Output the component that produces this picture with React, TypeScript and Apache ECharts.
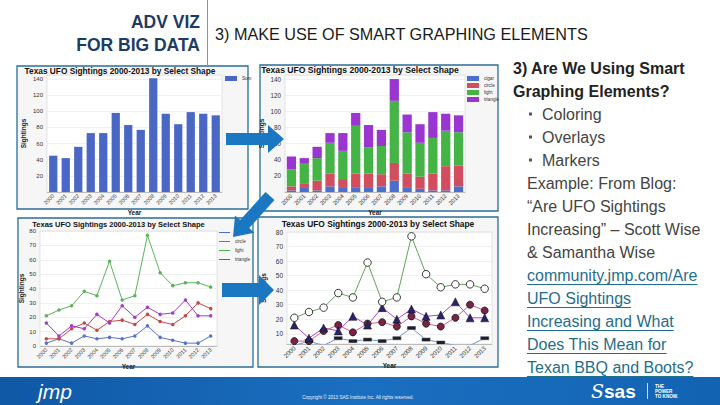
import React, { useEffect, useRef } from "react";
import * as echarts from "echarts";

const F = "'Liberation Sans', Arial, Helvetica, sans-serif";

const years = ["2000", "2001", "2002", "2003", "2004", "2005", "2006", "2007", "2008", "2009", "2010", "2011", "2012", "2013"];
const shapes = ["cigar", "circle", "light", "triangle"];
const totals = [45, 42, 56, 73, 73, 98, 83, 77, 141, 97, 84, 99, 97, 95];
const cigar = [2, 5, 2, 7, 5, 6, 5, 7, 14, 6, 4, 2, 2, 7];
const circle = [5, 5, 12, 16, 11, 17, 18, 15, 22, 17, 15, 21, 30, 26];
const light = [21, 25, 28, 38, 35, 59, 32, 35, 77, 51, 42, 44, 44, 41];
const triangle = [16, 7, 14, 12, 22, 16, 28, 20, 27, 22, 23, 32, 21, 21];
const shapeValues = [cigar, circle, light, triangle];

const yTicks12 = [20, 40, 60, 80, 100, 120, 140];
const yTicks4 = [10, 20, 30, 40, 50, 60, 70, 80];

const chartTitle = "Texas UFO Sightings 2000-2013 by Select Shape";
const slideHeader = ["ADV VIZ", "FOR BIG DATA"];
const slideTitle = "3) MAKE USE OF SMART GRAPHING ELEMENTS";
const sideHeading = ["3) Are We Using Smart", "Graphing Elements?"];
const bullets = ["Coloring", "Overlays", "Markers"];
const bodyLines = ["Example: From Blog:", "\u201cAre UFO Sightings", "Increasing\u201d \u2013 Scott Wise", "& Samantha Wise"];
const linkLines = ["community.jmp.com/Are", "UFO Sightings", "Increasing and What", "Does This Mean for", "Texan BBQ and Boots?"];
const footerCopy = "Copyright \u00a9 2013 SAS Institute Inc. All rights reserved.";
const tagline = ["THE", "POWER", "TO KNOW."];

const barColors = ["#4b6fd0", "#d24d5e", "#45b447", "#9a35d2"];
const line3Colors = ["#5675c8", "#c44848", "#5cb35c", "#a43cc6"];
const line4Colors = ["#6f8fd6", "#d2648a", "#5ea55e", "#a848cc"];

function App() {
  const ref = useRef<HTMLDivElement>(null);
  useEffect(() => {
    if (!ref.current) return;
    const chart = echarts.init(ref.current, undefined, { renderer: "svg" });

    const canvas = document.createElement("canvas");
    const ctx = canvas.getContext("2d")!;
    ctx.font = "16px 'Liberation Sans', Arial, sans-serif";

    const xAxis = (gridIndex: number, nameGap: number, fs: number) => ({
      type: "category",
      gridIndex,
      data: years,
      boundaryGap: true,
      axisLine: { show: true, lineStyle: { color: "#9a9a9a", width: 0.6 } },
      axisTick: { show: false },
      axisLabel: { rotate: 45, fontSize: fs, color: "#333", margin: 3, fontFamily: F, interval: 0 },
      name: "Year",
      nameLocation: "middle",
      nameGap,
      nameTextStyle: { fontSize: 6.5, color: "#222", fontFamily: F, fontWeight: "bold" },
    });
    const ySplit = { show: true, lineStyle: { color: "#e6e6e6", width: 0.6 } };
    const yLabel = (fs: number) => ({ fontSize: fs, color: "#333", fontFamily: F, margin: 4 });
    const yName = (gap: number) => ({
      name: "Sightings",
      nameLocation: "middle",
      nameGap: gap,
      nameRotate: 90,
      nameTextStyle: { fontSize: 6.5, color: "#222", fontFamily: F, fontWeight: "bold" },
    });

    const gridBase = { show: true, backgroundColor: "#ffffff", borderColor: "#d4d4d4", borderWidth: 0.6 };

    const series: any[] = [];
    shapes.forEach((s, i) => {
      series.push({
        type: "bar",
        name: s,
        xAxisIndex: 1,
        yAxisIndex: 1,
        stack: "shape",
        data: shapeValues[i],
        barWidth: "72%",
        itemStyle: { color: barColors[i] },
      });
    });
    series.push({
      type: "bar",
      name: "Sum",
      xAxisIndex: 0,
      yAxisIndex: 0,
      data: totals,
      barWidth: "66%",
      itemStyle: { color: "#4a67c6" },
    });
    shapes.forEach((s, i) => {
      series.push({
        type: "line",
        name: s,
        xAxisIndex: 2,
        yAxisIndex: 2,
        data: shapeValues[i],
        symbol: "circle",
        symbolSize: 3.5,
        lineStyle: { color: line3Colors[i], width: 1 },
        itemStyle: { color: line3Colors[i] },
      });
    });
    const markers = [
      { symbol: "rect", symbolSize: [9, 4], itemStyle: { color: "#1e1e2a", borderColor: "#ffffff", borderWidth: 0.5 } },
      { symbol: "circle", symbolSize: 7, itemStyle: { color: "#7a2444", borderColor: "#111", borderWidth: 0.8 } },
      { symbol: "circle", symbolSize: 7.5, itemStyle: { color: "#ffffff", borderColor: "#222", borderWidth: 0.9 } },
      { symbol: "triangle", symbolSize: 8, itemStyle: { color: "#2a2466", borderColor: "#111", borderWidth: 0.5 } },
    ];
    shapes.forEach((s, i) => {
      series.push({
        type: "line",
        name: s + " marker",
        xAxisIndex: 3,
        yAxisIndex: 3,
        data: shapeValues[i],
        clip: true,
        symbol: markers[i].symbol,
        symbolSize: markers[i].symbolSize,
        showAllSymbol: true,
        lineStyle: { color: line4Colors[i], width: 1 },
        itemStyle: markers[i].itemStyle,
        z: i === 2 ? 4 : 3,
      });
    });

    const legendText = { fontSize: 4.6, color: "#333", fontFamily: F };

    const elements: any[] = [];
    const boxes = [
      [17, 66, 231, 143],
      [260, 65, 238, 146],
      [18, 218, 235, 149],
      [258, 217, 240, 150],
    ];
    boxes.forEach((b) => {
      elements.push({
        type: "rect",
        z: -10,
        shape: { x: b[0], y: b[1], width: b[2], height: b[3] },
        style: { fill: "#f6f6f6", stroke: "#2c6d98", lineWidth: 1.3 },
      });
    });
    const titlePos = [
      [120, 71, 8.3],
      [360, 70, 8.6],
      [118.5, 224, 7.5],
      [378, 223.5, 8.4],
    ];
    titlePos.forEach((p) => {
      elements.push({
        type: "text",
        z: 5,
        style: {
          text: chartTitle,
          x: p[0],
          y: p[1],
          textAlign: "center",
          textVerticalAlign: "middle",
          fontSize: p[2],
          fontWeight: "bold",
          fontFamily: F,
          fill: "#111",
        },
      });
    });
    elements.push({ type: "line", shape: { x1: 207.5, y1: 0, x2: 207.5, y2: 66 }, style: { stroke: "#8796a8", lineWidth: 1 } });
    slideHeader.forEach((t, i) => {
      elements.push({
        type: "text",
        style: {
          text: t,
          x: 200,
          y: 22 + i * 23,
          textAlign: "right",
          textVerticalAlign: "middle",
          fontSize: 17.5,
          fontWeight: "bold",
          fontFamily: F,
          fill: "#1c3c62",
        },
      });
    });
    elements.push({
      type: "text",
      style: {
        text: slideTitle,
        x: 215,
        y: 34,
        textVerticalAlign: "middle",
        fontSize: 16.2,
        fontFamily: F,
        fill: "#1a1a1a",
      },
    });
    sideHeading.forEach((t, i) => {
      elements.push({
        type: "text",
        style: { text: t, x: 513, y: 68 + i * 23, textVerticalAlign: "middle", fontSize: 16, fontWeight: "bold", fontFamily: F, fill: "#222" },
      });
    });
    bullets.forEach((t, i) => {
      const y = 114 + i * 23;
      elements.push({ type: "rect", shape: { x: 529, y: y - 1.5, width: 3, height: 3 }, style: { fill: "#555" } });
      elements.push({
        type: "text",
        style: { text: t, x: 542, y, textVerticalAlign: "middle", fontSize: 16, fontFamily: F, fill: "#444" },
      });
    });
    bodyLines.forEach((t, i) => {
      elements.push({
        type: "text",
        style: { text: t, x: 527, y: 183 + i * 23, textVerticalAlign: "middle", fontSize: 16, fontFamily: F, fill: "#444" },
      });
    });
    linkLines.forEach((t, i) => {
      const y = 275 + i * 23;
      const w = ctx.measureText(t).width;
      elements.push({
        type: "text",
        style: { text: t, x: 527, y, textVerticalAlign: "middle", fontSize: 16, fontFamily: F, fill: "#1f6e8c" },
      });
      elements.push({ type: "line", shape: { x1: 527, y1: y + 9.5, x2: 527 + w, y2: y + 9.5 }, style: { stroke: "#1f6e8c", lineWidth: 1 } });
    });
    const arrowStyle = { fill: "#1a78c2" };
    elements.push({
      type: "polygon",
      z: 100,
      shape: { points: [[226, 133], [268, 133], [268, 125], [284, 139], [268, 153], [268, 145], [226, 145]] },
      style: arrowStyle,
    });
    elements.push({
      type: "polygon",
      z: 100,
      shape: { points: [[222, 283], [259, 283], [259, 275], [274, 290], [259, 305], [259, 297], [222, 297]] },
      style: arrowStyle,
    });
    elements.push({
      type: "polygon",
      z: 100,
      shape: {
        points: [[265.5, 192], [240.2, 220.1], [235.0, 215.4], [233, 237], [254.4, 232.8], [249.2, 228.1], [274.5, 200]],
      },
      style: arrowStyle,
    });
    elements.push({
      type: "rect",
      z: 50,
      shape: { x: 0, y: 377, width: 720, height: 28 },
      style: {
        fill: new echarts.graphic.LinearGradient(0, 0, 1, 0, [
          { offset: 0, color: "#0f58a6" },
          { offset: 0.5, color: "#1b6fc0" },
          { offset: 1, color: "#1363b3" },
        ]),
      },
    });
    elements.push({
      type: "text",
      z: 51,
      style: { text: "jmp", x: 38, y: 391, textVerticalAlign: "middle", fontSize: 21, fontStyle: "italic", fontFamily: F, fill: "#ffffff" },
    });
    elements.push({
      type: "text",
      z: 51,
      style: { text: footerCopy, x: 358, y: 397, textAlign: "center", textVerticalAlign: "middle", fontSize: 4.6, fontFamily: F, fill: "#e8f0fa" },
    });
    elements.push({
      type: "text",
      z: 51,
      style: { text: "S", x: 591, y: 391, textVerticalAlign: "middle", fontSize: 19, fontStyle: "italic", fontFamily: "'DejaVu Serif', serif", fill: "#ffffff" },
    });
    elements.push({
      type: "text",
      z: 51,
      style: { text: "sas", x: 604, y: 391, textVerticalAlign: "middle", fontSize: 19, fontWeight: "bold", fontFamily: F, fill: "#ffffff" },
    });
    elements.push({ type: "line", z: 51, shape: { x1: 647.5, y1: 383, x2: 647.5, y2: 399 }, style: { stroke: "#ffffff", lineWidth: 0.8 } });
    tagline.forEach((t, i) => {
      elements.push({
        type: "text",
        z: 51,
        style: { text: t, x: 655, y: 386 + i * 5, textVerticalAlign: "middle", fontSize: 4.6, fontWeight: "bold", fontFamily: F, fill: "#ffffff" },
      });
    });

    const option: any = {
      animation: false,
      backgroundColor: "#ffffff",
      textStyle: { fontFamily: F },
      grid: [
        { ...gridBase, left: 47, top: 75, width: 175, height: 117 },
        { ...gridBase, left: 285, top: 75, width: 180, height: 117 },
        { ...gridBase, left: 40, top: 231, width: 177, height: 115 },
        { ...gridBase, left: 287, top: 232, width: 205, height: 112 },
      ],
      xAxis: [xAxis(0, 15, 5.5), xAxis(1, 16, 5.8), xAxis(2, 15, 5.5), xAxis(3, 16, 6.2)],
      yAxis: [
        {
          type: "value", gridIndex: 0, min: 0, max: 145, interval: 20,
          axisLine: { show: false }, axisTick: { show: false },
          axisLabel: { ...yLabel(6), customValues: yTicks12 },
          splitLine: ySplit, ...yName(20),
        },
        {
          type: "value", gridIndex: 1, min: 0, max: 145, interval: 20,
          axisLine: { show: false }, axisTick: { show: false },
          axisLabel: { ...yLabel(6.3), customValues: yTicks12 },
          splitLine: ySplit, ...yName(20),
        },
        {
          type: "value", gridIndex: 2, min: 0, max: 80, interval: 10,
          axisLine: { show: false }, axisTick: { show: false },
          axisLabel: { ...yLabel(6) },
          splitLine: ySplit, ...yName(14),
        },
        {
          type: "value", gridIndex: 3, min: 3, max: 80,
          axisLine: { show: false }, axisTick: { show: false, customValues: yTicks4 },
          axisLabel: { ...yLabel(6.5), customValues: yTicks4 },
          splitLine: ySplit, ...yName(20),
        },
      ],
      legend: [
        {
          data: [{ name: "Sum", icon: "rect" }],
          left: 225, top: 76, orient: "vertical", itemWidth: 12, itemHeight: 5, itemGap: 2, padding: 0,
          textStyle: legendText, selectedMode: false,
        },
        {
          data: shapes.map((s) => ({ name: s, icon: "rect" })),
          left: 467, top: 76, orient: "vertical", itemWidth: 12, itemHeight: 5, itemGap: 2, padding: 0,
          textStyle: legendText, selectedMode: false,
        },
        {
          data: shapes.map((s) => ({ name: s, icon: "rect" })),
          left: 219, top: 230, orient: "vertical", itemWidth: 11, itemHeight: 1, itemGap: 4, padding: 0,
          textStyle: legendText, selectedMode: false,
        },
      ],
      series,
      graphic: { elements },
    };
    chart.setOption(option);
    return () => chart.dispose();
  }, []);
  return <div ref={ref} style={{ position: "absolute", left: 0, top: 0, width: 720, height: 405 }} />;
}

export default App;
